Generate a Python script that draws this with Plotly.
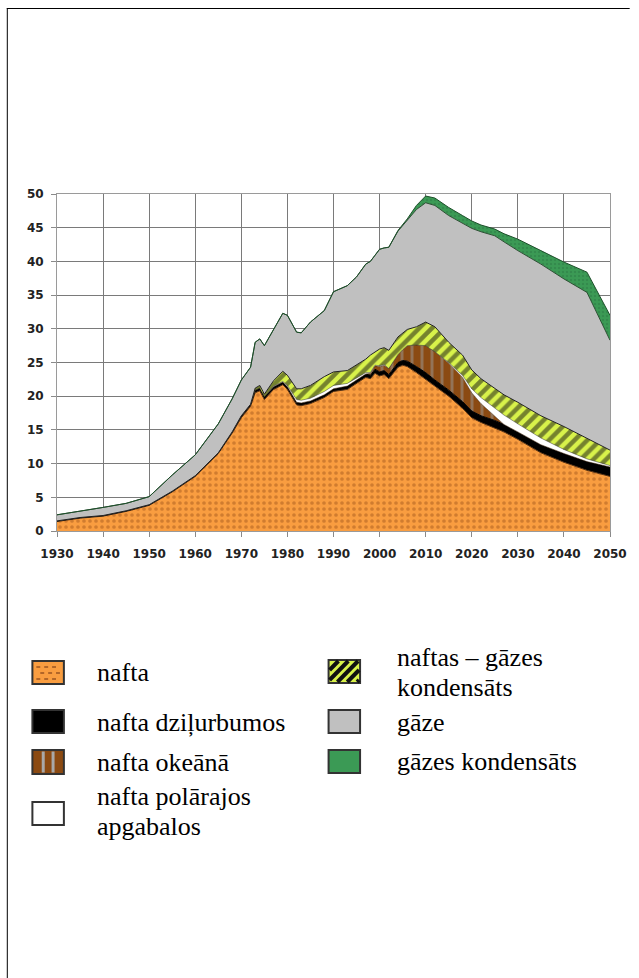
import plotly.graph_objects as go

# ---------------- data ----------------
years = [1930, 1935, 1940, 1945, 1950, 1955, 1960, 1965, 1968, 1970, 1972, 1973, 1974,
         1975, 1977, 1979, 1980, 1982, 1983, 1985, 1988, 1990, 1993, 1995, 1997, 1998,
         1999, 2000, 2001, 2002, 2004, 2005, 2006, 2008, 2010, 2012, 2015, 2018, 2020,
         2022, 2025, 2027, 2030, 2035, 2040, 2045, 2050]

nafta = [1.4, 1.9, 2.2, 2.9, 3.8, 5.8, 8.1, 11.5, 14.5, 16.8, 18.5, 20.5, 20.8,
         19.5, 21.0, 21.7, 21.0, 18.7, 18.6, 18.9, 19.8, 20.7, 21.0, 21.9, 22.8, 22.6,
         23.4, 23.0, 23.2, 22.6, 24.3, 24.6, 24.4, 23.5, 22.5, 21.4, 20.0, 18.2, 16.8,
         16.1, 15.3, 14.7, 13.6, 11.6, 10.2, 9.0, 8.1]

nafta_dzilurbumos = [0.1, 0.1, 0.1, 0.1, 0.1, 0.1, 0.1, 0.1, 0.2, 0.3, 0.3, 0.4, 0.4,
                     0.4, 0.4, 0.4, 0.4, 0.4, 0.4, 0.4, 0.4, 0.4, 0.5, 0.5, 0.5, 0.5,
                     0.6, 0.6, 0.6, 0.6, 0.7, 0.7, 0.8, 0.9, 1.0, 1.0, 0.9, 1.0, 1.0,
                     1.0, 1.1, 1.1, 1.1, 1.2, 1.3, 1.3, 1.4]

nafta_okeana = [0, 0, 0, 0, 0, 0, 0, 0, 0, 0, 0, 0, 0,
                0, 0, 0, 0, 0, 0, 0, 0, 0, 0, 0, 0, 0.3,
                0.5, 0.8, 0.8, 0.9, 1.2, 1.6, 2.3, 3.2, 4.0, 4.2, 4.0, 3.6, 2.7,
                1.8, 0.6, 0, 0, 0, 0, 0, 0]

nafta_polarajos = [0, 0, 0, 0, 0, 0, 0, 0, 0, 0, 0, 0, 0,
                   0, 0.1, 0.1, 0.2, 0.4, 0.4, 0.4, 0.5, 0.5, 0.4, 0.3, 0.2, 0.1,
                   0.1, 0.1, 0.1, 0, 0, 0, 0, 0, 0, 0, 0.1, 0.3, 0.6,
                   0.9, 1.3, 1.4, 1.2, 1.0, 0.6, 0.4, 0.2]

naftas_gazes_kondensats = [0, 0, 0, 0, 0, 0, 0, 0, 0, 0, 0, 0.3, 0.4,
                           0.4, 0.8, 1.5, 1.5, 1.6, 1.7, 1.9, 2.2, 2.0, 1.9, 1.9, 2.0, 2.6,
                           1.9, 2.5, 2.5, 2.7, 2.6, 2.5, 2.4, 2.7, 3.5, 3.7, 3.0, 3.0, 2.8,
                           2.8, 2.9, 3.0, 3.2, 3.3, 3.4, 3.1, 2.3]

gaze = [0.9, 0.9, 1.2, 1.1, 1.2, 2.4, 3.1, 4.3, 4.9, 5.3, 5.5, 6.8, 6.9,
        7.2, 7.7, 8.6, 8.9, 8.4, 8.3, 9.4, 9.8, 11.9, 12.6, 13.1, 14.1, 13.9,
        14.4, 14.8, 14.8, 15.3, 15.7, 15.9, 16.1, 17.4, 17.7, 18.0, 18.8, 19.5, 21.0,
        21.8, 22.6, 22.7, 22.5, 22.5, 21.9, 21.6, 16.3]

gazes_kondensats = [0, 0, 0, 0, 0, 0, 0, 0, 0, 0, 0, 0, 0,
                    0, 0, 0, 0, 0, 0, 0, 0, 0, 0, 0, 0, 0,
                    0, 0, 0, 0, 0.1, 0.2, 0.3, 0.6, 1.0, 1.1, 1.2, 1.2, 1.1,
                    1.0, 1.0, 1.2, 1.7, 2.0, 2.5, 3.0, 3.7]

x_ticks = [1930, 1940, 1950, 1960, 1970, 1980, 1990, 2000, 2010, 2020, 2030, 2040, 2050]
y_ticks = [0, 5, 10, 15, 20, 25, 30, 35, 40, 45, 50]

legend_left = ["nafta", "nafta dziļurbumos", "nafta okeānā", ["nafta polārajos", "apgabalos"]]
legend_right = [["naftas – gāzes", "kondensāts"], "gāze", "gāzes kondensāts"]

# ---------------- figure geometry ----------------
W, H = 639, 978
PL, PR, PT, PB = 57, 619, 194, 531  # plot area in pixels


def px(X):
    return (X - PL) / (PR - PL)


def py(Y):
    return (PB - Y) / (PB - PT)


series = [
    ("nafta", nafta, dict(fillcolor="#F99D40",
                          fillpattern=dict(shape=".", bgcolor="#F99D40", fgcolor="#A85C1E",
                                           size=6, solidity=0.3), line=dict(color="#5a3210", width=1))),
    ("nafta dziļurbumos", nafta_dzilurbumos, dict(fillcolor="#000000",
                                                  line=dict(color="#000000", width=1))),
    ("nafta okeānā", nafta_okeana, dict(fillcolor="#8B4A12",
                                        fillpattern=dict(shape="|", bgcolor="#8B4A12", fgcolor="#9C9C9C",
                                                         size=10, solidity=0.3), line=dict(color="#3a2008", width=0.5))),
    ("nafta polārajos apgabalos", nafta_polarajos, dict(fillcolor="#FFFFFF",
                                                       line=dict(color="#333333", width=0.5))),
    ("naftas – gāzes kondensāts", naftas_gazes_kondensats, dict(fillcolor="#D8F24A",
                                                               fillpattern=dict(shape="/", bgcolor="#D8F24A", fgcolor="#111111",
                                                                                size=9, solidity=0.5), line=dict(color="#222222", width=1))),
    ("gāze", gaze, dict(fillcolor="#C0C0C0", line=dict(color="#2f4f35", width=1))),
    ("gāzes kondensāts", gazes_kondensats, dict(fillcolor="#3B9A55",
                                               fillpattern=dict(shape=".", bgcolor="#3B9A55", fgcolor="#2B7A43",
                                                                size=4, solidity=0.3), line=dict(color="#1d4f2a", width=1))),
]

fig = go.Figure()
for name, vals, style in series:
    fig.add_trace(go.Scatter(x=years, y=vals, name=name, mode="lines", stackgroup="one",
                             showlegend=False, hoverinfo="skip", **style))

fig.update_xaxes(range=[1930, 2050], tickvals=x_ticks, ticktext=[str(v) for v in x_ticks],
                 showgrid=True, gridcolor="#7a7a7a", gridwidth=1,
                 showline=True, linecolor="#9a9a9a", linewidth=1, mirror=True,
                 ticks="outside", ticklen=5, tickcolor="#8a8a8a", ticklabelstandoff=7,
                 tickfont=dict(family="DejaVu Sans", size=12, color="#222222", weight="bold"),
                 zeroline=False, fixedrange=True)
fig.update_yaxes(range=[0, 50], tickvals=y_ticks, ticktext=[str(v) for v in y_ticks],
                 showgrid=True, gridcolor="#7a7a7a", gridwidth=1,
                 showline=True, linecolor="#9a9a9a", linewidth=1, mirror=True,
                 ticks="outside", ticklen=5, tickcolor="#8a8a8a", ticklabelstandoff=5,
                 tickfont=dict(family="DejaVu Sans", size=12, color="#222222", weight="bold"),
                 zeroline=False, fixedrange=True)

shapes = []
annotations = []

# page border (top and left)
shapes.append(dict(type="line", xref="paper", yref="paper", x0=px(6), x1=px(639), y0=py(8.5), y1=py(8.5),
                   line=dict(color="#000000", width=1)))
shapes.append(dict(type="line", xref="paper", yref="paper", x0=px(6.5), x1=px(6.5), y0=py(8), y1=py(978),
                   line=dict(color="#000000", width=1)))

# legend swatches
sw_fill = ["#F99D40", "#000000", "#8B4A12", "#FFFFFF", "#D8F24A", "#C0C0C0", "#3B9A55"]
left_boxes = [(661, 684), (710, 733), (750, 774), (802, 825)]
right_boxes = [(660, 683), (710, 733), (750, 773)]
LX0, LX1 = 32, 64
RX0, RX1 = 333, 365
boxes = [(LX0, LX1, a, b) for a, b in left_boxes] + [(RX0, RX1, a, b) for a, b in right_boxes]
for (x0, x1, y0, y1), col in zip(boxes, sw_fill):
    shapes.append(dict(type="rect", xref="paper", yref="paper", x0=px(x0), x1=px(x1), y0=py(y0), y1=py(y1),
                       fillcolor=col, line=dict(color="#333333", width=2), layer="above"))

# pattern hints inside swatches
x0, x1, y0, y1 = boxes[0]
for row, yy in enumerate([y0 + 6, y0 + 12, y0 + 18]):
    off = 0 if row % 2 == 0 else 4
    xx = x0 + 4 + off
    while xx + 4 < x1 - 2:
        shapes.append(dict(type="line", xref="paper", yref="paper", x0=px(xx), x1=px(xx + 4),
                           y0=py(yy), y1=py(yy), line=dict(color="#9A5520", width=1.5), layer="above"))
        xx += 8
x0, x1, y0, y1 = boxes[2]
for xx in [x0 + 11, x0 + 21]:
    shapes.append(dict(type="line", xref="paper", yref="paper", x0=px(xx), x1=px(xx), y0=py(y0 + 1.5),
                       y1=py(y1 - 1.5), line=dict(color="#A8A8A8", width=3), layer="above"))
x0, x1, y0, y1 = boxes[4]
h = y1 - y0
for start in [x0 - 12, x0 - 2, x0 + 8, x0 + 18, x0 + 28]:
    sx, sy, ex, ey = start, y1, start + h, y0
    if sx < x0:
        d = x0 - sx
        sx, sy = x0, sy - d
    if ex > x1:
        d = ex - x1
        ex, ey = x1, ey + d
    if ex - sx > 1:
        shapes.append(dict(type="line", xref="paper", yref="paper", x0=px(sx + 1), x1=px(ex - 1),
                           y0=py(sy - 1), y1=py(ey + 1), line=dict(color="#111111", width=4), layer="above"))

# legend labels
LFONT = dict(family="Liberation Serif", size=26, color="#000000")
left_text_y = [672, 722, 762, [796, 826]]
right_text_y = [[657, 687], 722, 761]
for lab, yy in zip(legend_left, left_text_y):
    labs = lab if isinstance(lab, list) else [lab]
    ys = yy if isinstance(yy, list) else [yy]
    for t, y in zip(labs, ys):
        annotations.append(dict(text=t, xref="paper", yref="paper", x=px(96), y=py(y),
                                xanchor="left", yanchor="middle", showarrow=False, font=LFONT))
for lab, yy in zip(legend_right, right_text_y):
    labs = lab if isinstance(lab, list) else [lab]
    ys = yy if isinstance(yy, list) else [yy]
    for t, y in zip(labs, ys):
        annotations.append(dict(text=t, xref="paper", yref="paper", x=px(400), y=py(y),
                                xanchor="left", yanchor="middle", showarrow=False, font=LFONT))

fig.update_layout(width=W, height=H, margin=dict(l=PL, r=W - PR, t=PT, b=H - PB, pad=0),
                  paper_bgcolor="#FFFFFF", plot_bgcolor="#FFFFFF", showlegend=False,
                  shapes=shapes, annotations=annotations)

fig.write_html("out.html", config={"displayModeBar": False},
               post_script="document.body.style.margin='0';")
